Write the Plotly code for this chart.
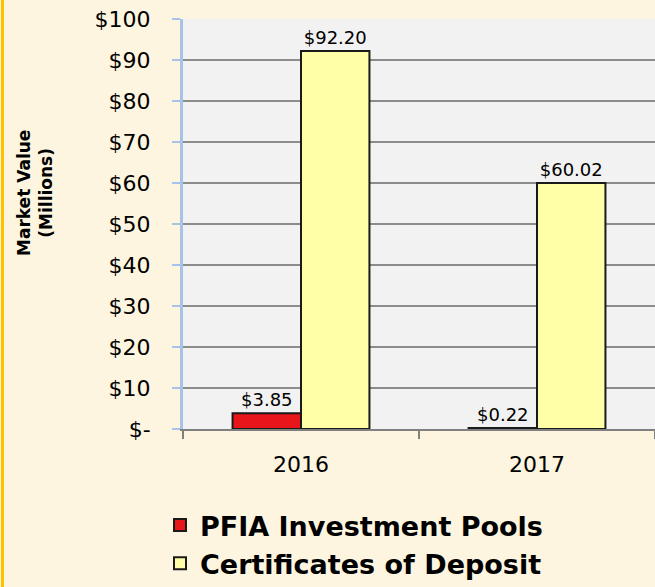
import plotly.graph_objects as go

categories = ["2016", "2017"]
pfia_values = [3.85, 0.22]
cd_values = [92.20, 60.02]
pfia_labels = ["$3.85", "$0.22"]
cd_labels = ["$92.20", "$60.02"]
y_tickvals = [0, 10, 20, 30, 40, 50, 60, 70, 80, 90, 100]
y_ticktext = ["$-", "$10", "$20", "$30", "$40", "$50", "$60", "$70", "$80", "$90", "$100"]

W, H = 655, 587
L, R, T, B = 183, 0, 19, 158
pw = W - L - R
ph = H - T - B
FONT = "DejaVu Sans"

fig = go.Figure()
fig.add_trace(go.Bar(
    x=categories, y=pfia_values, name="<b>PFIA Investment Pools</b>",
    marker=dict(color="#E8151B", line=dict(color="#1A1A1A", width=2)),
    text=pfia_labels, textposition="outside", cliponaxis=False,
    textfont=dict(family=FONT, size=18, color="black"),
))
fig.add_trace(go.Bar(
    x=categories, y=cd_values, name="<b>Certificates of Deposit</b>",
    marker=dict(color="#FFFFA8", line=dict(color="#1A1A1A", width=2)),
    text=cd_labels, textposition="outside", cliponaxis=False,
    textfont=dict(family=FONT, size=18, color="black"),
))

fig.update_layout(
    width=W, height=H,
    margin=dict(l=L, r=R, t=T, b=B, pad=0, autoexpand=False),
    paper_bgcolor="#FDF5DF",
    plot_bgcolor="#F2F2F2",
    barmode="group", bargap=0.42, bargroupgap=0,
    font=dict(family=FONT, color="black"),
    showlegend=True,
    legend=dict(
        x=(160 - L) / pw, y=(429 - 501) / ph, xanchor="left", yanchor="top",
        bgcolor="rgba(0,0,0,0)", font=dict(family=FONT, size=27, color="black"),
        orientation="v", tracegroupgap=0,
    ),
    xaxis=dict(
        type="category", range=[-0.5, 1.5],
        showline=True, linecolor="#808080", linewidth=2,
        ticks="outside", tickson="boundaries", ticklen=8, tickcolor="#808080", tickwidth=2,
        tickfont=dict(family=FONT, size=22, color="black"),
        ticklabelstandoff=15, showgrid=False, zeroline=False,
    ),
    yaxis=dict(
        range=[0, 100], tickvals=y_tickvals, ticktext=y_ticktext,
        showline=True, linecolor="#A9C2EA", linewidth=3,
        ticks="outside", ticklen=8, tickcolor="#A9C2EA", tickwidth=2,
        tickfont=dict(family=FONT, size=22, color="black"),
        ticklabelstandoff=17,
        showgrid=True, gridcolor="#8C8C8C", gridwidth=2, zeroline=False,
    ),
    annotations=[dict(
        text="<b>Market Value<br>(Millions)</b>", textangle=-90,
        xref="paper", yref="paper", x=(35 - L) / pw, y=(429 - 193) / ph,
        xanchor="center", yanchor="middle", showarrow=False,
        font=dict(family=FONT, size=17, color="black"),
    )],
    shapes=[dict(
        type="line", xref="paper", yref="paper",
        x0=(2.5 - L) / pw, x1=(2.5 - L) / pw, y0=(429 - 0) / ph, y1=(429 - 587) / ph,
        line=dict(color="#FFC000", width=3),
    )],
)

fig.write_html("out.html", config={"displayModeBar": False},
               post_script="document.body.style.margin='0';")
